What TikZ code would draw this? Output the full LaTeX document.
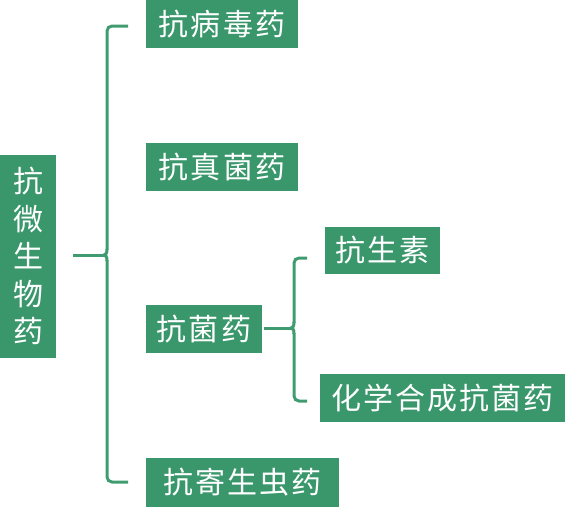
\documentclass[tikz,border=0pt]{standalone}
\usepackage{fontspec}
\newfontfamily\cjk[LetterSpace=7]{Noto Sans CJK SC}
\newfontfamily\cjkv{Noto Sans CJK SC}
\definecolor{boxgreen}{RGB}{58,151,108}
\definecolor{linegreen}{RGB}{64,156,112}
\begin{document}
\begin{tikzpicture}[x=1pt,y=-1pt,
  gbox/.style={fill=boxgreen,text=white,inner sep=0pt,anchor=center,
    font=\cjk\fontsize{30}{32}\selectfont},
  brk/.style={draw=linegreen,line width=3pt,rounded corners=5pt}]
\useasboundingbox (0,0) rectangle (565,507);
\node[gbox,minimum width=56pt,minimum height=203pt,align=center,
  font=\cjkv\fontsize{30}{37.5}\selectfont] (root) at (28,256) {抗\\微\\生\\物\\药};
\node[gbox,minimum width=152pt,minimum height=48pt] (a) at (222,24) {抗病毒药};
\node[gbox,minimum width=152pt,minimum height=48pt] (b) at (222,167) {抗真菌药};
\node[gbox,minimum width=116pt,minimum height=48pt] (c) at (204,329) {抗菌药};
\node[gbox,minimum width=115pt,minimum height=47pt] (d) at (382.5,250.5) {抗生素};
\node[gbox,minimum width=245pt,minimum height=48pt] (e) at (442.5,398) {化学合成抗菌药};
\node[gbox,minimum width=193pt,minimum height=49pt] (f) at (242.5,482.5) {抗寄生虫药};
% big bracket
\coordinate (bt) at (128,26);
\coordinate (bb) at (128,482);
\coordinate (bm) at (104,255);
\coordinate (rs) at (73,255);
\draw[brk] (bt) -- (107,26) -- (107,250);
\draw[draw=linegreen,line width=3pt] (107,249) .. controls (107,253) and (106,255) .. (bm);
\draw[draw=linegreen,line width=3pt] (107,261) .. controls (107,257) and (106,255) .. (bm);
\draw[brk] (107,260) -- (107,482) -- (bb);
\draw[draw=linegreen,line width=3pt] (rs) -- (bm);
% small bracket
\coordinate (st) at (307,258);
\coordinate (sb) at (307,401);
\coordinate (sm) at (291,328);
\coordinate (cs) at (264,328);
\draw[brk] (st) -- (294,258) -- (294,323);
\draw[draw=linegreen,line width=3pt] (294,322) .. controls (294,326) and (293,328) .. (sm);
\draw[draw=linegreen,line width=3pt] (294,334) .. controls (294,330) and (293,328) .. (sm);
\draw[brk] (294,333) -- (294,401) -- (sb);
\draw[draw=linegreen,line width=3pt] (cs) -- (sm);
\end{tikzpicture}
\end{document}
